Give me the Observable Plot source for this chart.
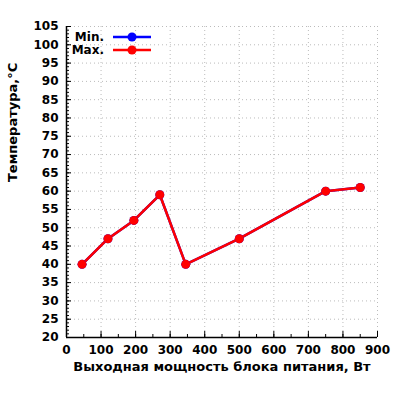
<!DOCTYPE html>
<html>
<head>
<meta charset="utf-8">
<script src="https://cdn.jsdelivr.net/npm/d3@7"></script>
<script src="https://cdn.jsdelivr.net/npm/@observablehq/plot@0.6"></script>
<style>
  body { margin: 0; background: #fff; }
  #chart { position: relative; width: 400px; height: 400px; font-family: "DejaVu Sans", sans-serif; }
  #legend { position: absolute; left: 0; top: 0; }
</style>
</head>
<body>
<div id="chart"></div>
<script>
// power output (W) and temperature (°C)
const power = [45, 120, 195, 270, 345, 500, 750, 850];
const tempMin = [40, 47, 52, 59, 40, 47, 60, 61];
const tempMax = [40, 47, 52, 59, 40, 47, 60, 61];
const seriesNames = ["Min.", "Max."];
const seriesColors = ["#0000ff", "#ff0000"];
const xTicks = d3.range(0, 901, 100);
const xMinorTicks = d3.range(0, 901, 50);
const yTicks = d3.range(20, 106, 5);
const yMinorTicks = d3.range(20, 106, 1);

const data = [tempMin, tempMax].flatMap((vals, s) =>
  vals.map((t, i) => ({series: seriesNames[s], power: power[i], temp: t})))

let chart = Plot.plot({
  width: 400,
  height: 400,
  marginLeft: 66,
  marginRight: 23,
  marginTop: 26,
  marginBottom: 63,
  style: {fontFamily: "DejaVu Sans", fontSize: "12px", fontWeight: "bold", color: "#000", background: "#fff"},
  x: {domain: [0, 900]},
  y: {domain: [20, 105]},
  color: {domain: seriesNames, range: seriesColors},
  marks: [
    Plot.gridX(xTicks.slice(1), {stroke: "#bbb", strokeOpacity: 1, strokeDasharray: "1,3"}),
    Plot.gridY(yTicks.slice(1), {stroke: "#bbb", strokeOpacity: 1, strokeDasharray: "1,3"}),

    Plot.line(data, {x: "power", y: "temp", z: "series", stroke: "series", strokeWidth: 2.5}),
    Plot.dot(data, {x: "power", y: "temp", fill: "series", r: 4.5}),

    Plot.ruleX([0], {stroke: "#000", strokeWidth: 1.5}),
    Plot.ruleY([20], {stroke: "#000", strokeWidth: 1.5}),

    // inward ticks
    Plot.axisY(yMinorTicks, {tickSize: -3, fill: "none", label: null}),
    Plot.axisY(yTicks, {tickSize: -5, fill: "none", label: null}),
    Plot.axisX(xMinorTicks, {tickSize: -3, fill: "none", label: null}),
    Plot.axisX(xTicks, {tickSize: -6, fill: "none", label: null}),
    // labels
    Plot.axisY(yTicks, {tickSize: 0, tickPadding: 8, label: null, fontSize: 12, fontWeight: "bold"}),
    Plot.axisX(xTicks, {tickSize: 0, tickPadding: 8, label: null, fontSize: 12, fontWeight: "bold"}),

    Plot.text(["Температура,°C"], {frameAnchor: "left", rotate: -90, dx: -54, fontSize: 13, fontWeight: "bold"}),
    Plot.text(["Выходная мощность блока питания, Вт"], {frameAnchor: "bottom", dy: 33, fontSize: 13, fontWeight: "bold"})
  ]
})

d3.select('#chart').append(() => chart)

// legend in the top-left corner of the plot area
const legend = d3.select('#chart').append('svg')
  .attr('id', 'legend').attr('width', 200).attr('height', 70)
const row = legend.selectAll('g').data(seriesNames).join('g')
  .attr('transform', (d, i) => `translate(0,${37 + i * 13})`)
row.append('text').text(d => d).attr('x', 104).attr('dy', '0.35em')
  .attr('text-anchor', 'end').attr('font-size', 12).attr('font-weight', 'bold')
  .attr('font-family', 'DejaVu Sans')
row.append('line').attr('x1', 113).attr('x2', 151)
  .attr('stroke', (d, i) => seriesColors[i]).attr('stroke-width', 2.5)
row.append('circle').attr('cx', 132).attr('r', 4.5)
  .attr('fill', (d, i) => seriesColors[i])
</script>
</body>
</html>
